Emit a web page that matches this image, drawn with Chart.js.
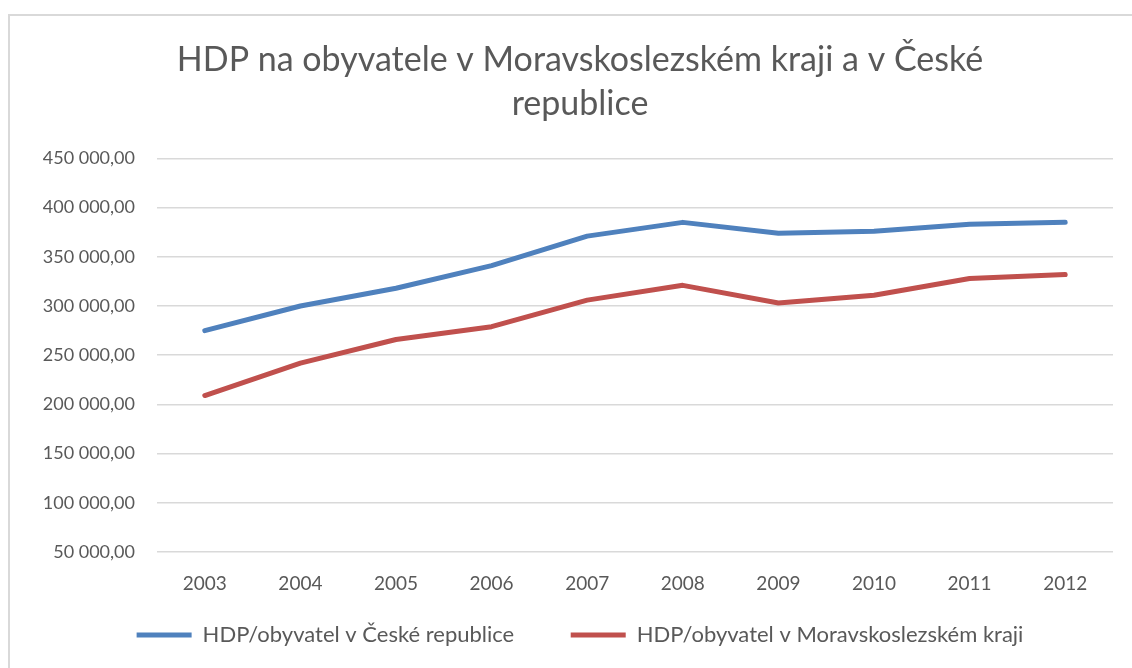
<!DOCTYPE html>
<html>
<head>
<meta charset="utf-8">
<script src="https://cdn.jsdelivr.net/npm/chart.js@4.4.1/dist/chart.umd.min.js"></script>
<style>
  html, body { margin: 0; padding: 0; background: #fff; overflow: hidden; width: 1132px; height: 668px; }
  #frame { position: absolute; left: 8px; top: 14px; width: 1140px; height: 660px;
           border-left: 2px solid #d9d9d9; border-top: 2px solid #d9d9d9; box-sizing: border-box; }
  #wrap { position: absolute; left: 0; top: 0; width: 1160px; height: 668px; }
</style>
</head>
<body>
<div id="frame"></div>
<div id="wrap"><canvas id="myChart" width="1160" height="668"></canvas></div>
<script>
var years = ['2003', '2004', '2005', '2006', '2007', '2008', '2009', '2010', '2011', '2012'];
var czValues = [275000, 300000, 318000, 341000, 371000, 385000, 374000, 376000, 383000, 385000];
var mskValues = [209000, 242000, 266000, 279000, 306000, 321000, 303000, 311000, 328000, 332000];
var czLabel = 'HDP/obyvatel v České republice';
var mskLabel = 'HDP/obyvatel v Moravskoslezském kraji';
var titleLines = ['HDP na obyvatele v Moravskoslezském kraji a v České', 'republice'];

var textColor = '#595959';
var fontFamily = 'Lato, "Open Sans", sans-serif';

function czNumber(v) {
    // 450000 -> "450 000,00"
    var s = Math.round(v).toString().replace(/\B(?=(\d{3})+(?!\d))/g, ' ');
    return s + ',00';
}

var ctx = document.getElementById('myChart').getContext('2d');
var chart = new Chart(ctx, {
    type: 'line',
    data: {
        labels: years,
        datasets: [{
            label: czLabel,
            data: czValues,
            borderColor: '#4f81bd',
            backgroundColor: '#4f81bd',
            borderWidth: 5,
            borderCapStyle: 'round',
            borderJoinStyle: 'round',
            pointRadius: 0,
            pointStyle: 'line',
            tension: 0
        }, {
            label: mskLabel,
            data: mskValues,
            borderColor: '#c0504d',
            backgroundColor: '#c0504d',
            borderWidth: 5,
            borderCapStyle: 'round',
            borderJoinStyle: 'round',
            pointRadius: 0,
            pointStyle: 'line',
            tension: 0
        }]
    },
    options: {
        responsive: false,
        animation: false,
        layout: { padding: { left: 20, right: 20, top: 38, bottom: 12 } },
        plugins: {
            title: {
                display: true,
                text: titleLines,
                color: textColor,
                font: { family: fontFamily, size: 34, weight: 'normal', lineHeight: 1.3 },
                padding: { top: 0, bottom: 32 }
            },
            legend: {
                position: 'bottom',
                labels: {
                    color: textColor,
                    font: { family: fontFamily, size: 22 },
                    usePointStyle: true,
                    pointStyleWidth: 55,
                    padding: 29,
                    generateLabels: function(c) {
                        var items = Chart.defaults.plugins.legend.labels.generateLabels(c);
                        // wider gap between the two entries, like the original
                        items[0].text = items[0].text + '\u2003\u2002';
                        return items;
                    }
                }
            },
            tooltip: { enabled: false }
        },
        scales: {
            x: {
                offset: true,
                grid: { display: false, drawTicks: false },
                border: { display: false },
                afterFit: function(scale) { scale.height = 43; },
                ticks: { color: textColor, font: { family: fontFamily, size: 19 }, padding: 20 }
            },
            y: {
                min: 50000,
                max: 450000,
                border: { display: false },
                grid: { color: '#d9d9d9', lineWidth: 1.5, drawTicks: false },
                afterFit: function(scale) { scale.width = 137; },
                ticks: {
                    stepSize: 50000,
                    color: textColor,
                    font: { family: fontFamily, size: 18 },
                    padding: 22,
                    callback: function(v) { return czNumber(v); }
                }
            },
            // empty right-hand spacer so the title and legend sit where they do in the original
            spacer: {
                type: 'linear',
                position: 'right',
                grid: { display: false, drawTicks: false },
                border: { display: false },
                ticks: { display: false },
                afterFit: function(scale) { scale.width = 27; }
            }
        }
    }
});
</script>
</body>
</html>
